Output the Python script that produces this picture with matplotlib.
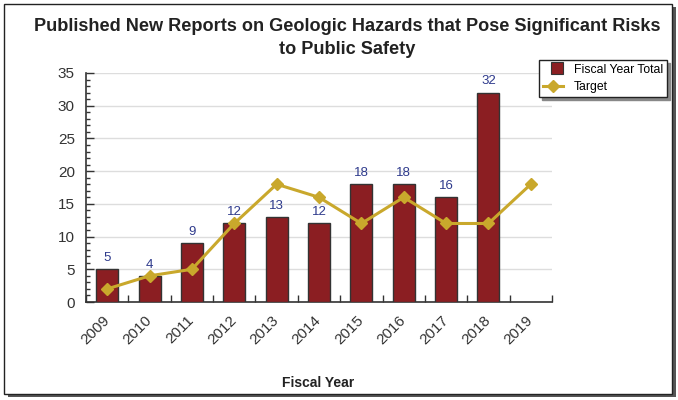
import matplotlib
matplotlib.use("Agg")
import matplotlib.pyplot as plt
from matplotlib.patches import Rectangle
from matplotlib.ticker import MultipleLocator
from matplotlib.transforms import ScaledTranslation
from matplotlib.legend_handler import HandlerPatch
import numpy as np

plt.rcParams['font.family'] = ['Liberation Sans', 'DejaVu Sans']

years = ['2009', '2010', '2011', '2012', '2013', '2014', '2015', '2016', '2017', '2018', '2019']
totals = [5, 4, 9, 12, 13, 12, 18, 18, 16, 32, None]
targets = [2, 4, 5, 12, 18, 16, 12, 16, 12, 12, 18]

title = "Published New Reports on Geologic Hazards that Pose Significant Risks\nto Public Safety"

fig = plt.figure(figsize=(6.78, 4.0), dpi=100)

# figure border with shadow
fig.patches.append(Rectangle((8/678, 3/400), 668/678, 390/400, transform=fig.transFigure,
                             facecolor='#555555', edgecolor='none', zorder=-2))
fig.patches.append(Rectangle((4/678, 6/400), 668/678, 390/400, transform=fig.transFigure,
                             facecolor='white', edgecolor='#222222', linewidth=1.0, zorder=-1))

ax = fig.add_axes([86/678, 1 - 302/400, 466/678, 229/400])
x = np.arange(len(years))
bar_x = [i for i, v in enumerate(totals) if v is not None]
bar_v = [v for v in totals if v is not None]
bars = ax.bar(bar_x, bar_v, width=0.52, color='#8B1E22', edgecolor='#333333', linewidth=1.0,
              zorder=3, label='Fiscal Year Total')
for xi, v in zip(bar_x, bar_v):
    ax.text(xi, v + 0.8, str(v), ha='center', va='bottom', color='#2E3A8C', fontsize=9.5, zorder=5)

ax.plot(x, targets, color='#C9A82C', linewidth=2.2, marker='D', markersize=6.5,
        markerfacecolor='#C9A82C', markeredgecolor='#C9A82C', zorder=4, label='Target')

ax.set_xlim(-0.5, len(years) - 0.5)
ax.set_ylim(0, 35)
ax.yaxis.set_major_locator(MultipleLocator(5))
ax.yaxis.set_minor_locator(MultipleLocator(1))
ax.grid(axis='y', which='major', color='#DDDDDD', linewidth=1.0, zorder=0)
ax.set_axisbelow(True)

ax.set_xticks(x)
ax.set_xticklabels(years, rotation=45, ha='right', rotation_mode='anchor', fontsize=11, color='#333333')
ax.tick_params(axis='x', which='major', length=0, pad=8)
shift = ScaledTranslation(-5/100, 0, fig.dpi_scale_trans)
for lbl in ax.get_xticklabels():
    lbl.set_transform(lbl.get_transform() + shift)
ax.set_xticks(np.arange(-0.5, len(years)), minor=True)
ax.tick_params(axis='x', which='minor', direction='in', length=5, width=1, color='#333333')
ax.tick_params(axis='y', which='major', direction='in', length=6, width=1, color='#333333',
               labelsize=11, labelcolor='#333333', pad=8)
ax.tick_params(axis='y', which='minor', direction='in', length=3, width=1, color='#333333')

for s in ['top', 'right']:
    ax.spines[s].set_visible(False)
for s in ['left', 'bottom']:
    ax.spines[s].set_color('#333333')
    ax.spines[s].set_linewidth(1.2)

fig.text(347/678, 1 - 38/400, title, ha='center', va='center', fontsize=13.1, fontweight='bold',
         color='#222222', linespacing=1.45)
fig.text(318/678, 1 - 383/400, 'Fiscal Year', ha='center', va='center', fontsize=10,
         fontweight='bold', color='#222222')


class SquareHandler(HandlerPatch):
    def create_artists(self, legend, orig_handle, xdescent, ydescent, width, height, fontsize, trans):
        s = height * 1.4
        p = Rectangle((xdescent + width - s, -ydescent + height / 2 - s / 2), s, s,
                      facecolor='#8B1E22', edgecolor='#333333', linewidth=0.8, transform=trans)
        return [p]


leg = fig.legend(handles=[bars[0], ax.lines[0]], labels=['Fiscal Year Total', 'Target'],
                 loc='upper left', bbox_to_anchor=(539/678, 1 - 60/400), fontsize=8.8,
                 frameon=True, fancybox=False, shadow={'color': '#888888', 'alpha': 1},
                 borderpad=0.3, labelspacing=0.45, handlelength=1.7, handletextpad=0.85,
                 borderaxespad=0, handler_map={Rectangle: SquareHandler()})
leg.get_frame().set_edgecolor('#222222')
leg.get_frame().set_linewidth(1.0)

fig.savefig('out.png', dpi=100)
